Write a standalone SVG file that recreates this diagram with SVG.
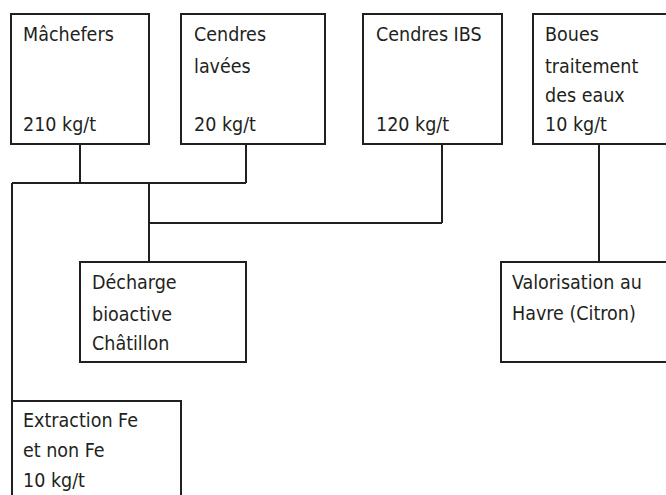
<svg xmlns="http://www.w3.org/2000/svg" width="666" height="495" viewBox="0 0 666 495">
<style>
.box{fill:#fff;stroke:#231f20;stroke-width:2}
.ln{fill:none;stroke:#231f20;stroke-width:2}
text{font-family:"DejaVu Sans Condensed","DejaVu Sans","Liberation Sans",sans-serif;font-stretch:condensed;font-size:19.5px;fill:#231f20}
</style>
<rect width="666" height="495" fill="#fff"/>
<g id="connectors">
<path class="ln" d="M80,144V183M246,144V183M12,183H246M12,183V401M149,183V262M149,223H442M442,144V223M599,144V262"/>
</g>
<g id="machefers"><rect class="box" x="11" y="14" width="138" height="130"/><text x="23" y="40.5">Mâchefers</text><text x="23" y="131">210 kg/t</text></g>
<g id="cendres-lavees"><rect class="box" x="181" y="14" width="144" height="130"/><text x="194" y="40.5">Cendres</text><text x="194" y="73">lavées</text><text x="194" y="131">20 kg/t</text></g>
<g id="cendres-ibs"><rect class="box" x="363" y="14" width="139" height="130"/><text x="376" y="40.5">Cendres IBS</text><text x="376" y="131">120 kg/t</text></g>
<g id="boues"><rect class="box" x="533" y="14" width="136" height="130"/><text x="545" y="40.5">Boues</text><text x="545" y="73">traitement</text><text x="545" y="102">des eaux</text><text x="545" y="131">10 kg/t</text></g>
<g id="decharge"><rect class="box" x="80" y="262" width="166" height="100"/><text x="92" y="289">Décharge</text><text x="92" y="320.5">bioactive</text><text x="92" y="350">Châtillon</text></g>
<g id="valorisation"><rect class="box" x="501" y="262" width="168" height="100"/><text x="512" y="288.5">Valorisation au</text><text x="512" y="320">Havre (Citron)</text></g>
<g id="extraction"><rect class="box" x="12" y="401" width="169" height="97"/><text x="23" y="427">Extraction Fe</text><text x="23" y="457">et non Fe</text><text x="23" y="487">10 kg/t</text></g>
</svg>
